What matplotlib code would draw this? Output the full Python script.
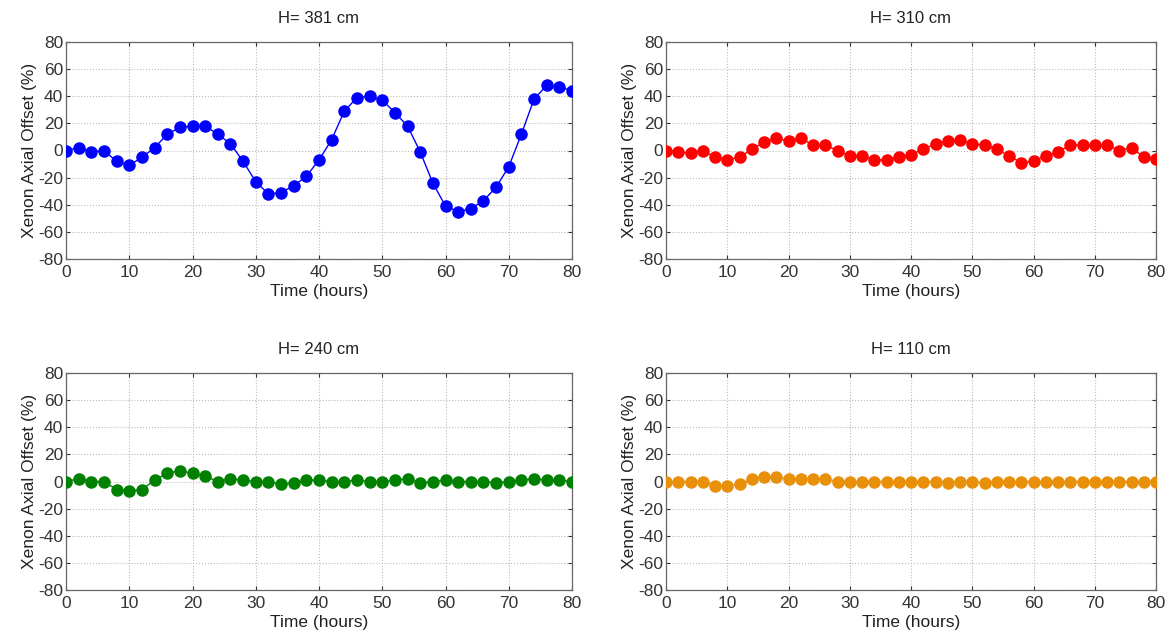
import matplotlib
matplotlib.use("Agg")
import matplotlib.pyplot as plt
import numpy as np

plt.rcParams['font.family'] = ['Liberation Sans', 'DejaVu Sans']
plt.rcParams['axes.unicode_minus'] = False

time_h = list(range(0, 81, 2))

ao_381 = [0, 2, -1, 0, -8, -11, -5, 2, 12, 17, 18, 18, 12, 5, -8, -23, -32, -31, -26, -19,
          -7, 8, 29, 39, 40, 37, 28, 18, -1, -24, -41, -45, -43, -37, -27, -12, 12, 38, 48, 47, 44]
ao_310 = [0, -1, -2, 0, -5, -7, -5, 1, 6, 9, 7, 9, 4, 4, 0, -4, -4, -7, -7, -5,
          -3, 1, 5, 7, 8, 5, 4, 1, -4, -9, -8, -4, -1, 4, 4, 4, 4, 0, 2, -5, -6]
ao_240 = [0, 2, 0, 0, -6, -7, -6, 1, 6, 8, 6, 4, 0, 2, 1, 0, 0, -2, -1, 1,
          1, 0, 0, 1, 0, 0, 1, 2, -1, 0, 1, 0, 0, 0, -1, 0, 1, 2, 1, 1, 0]
ao_110 = [0, 0, 0, 0, -3, -3, -2, 2, 3, 3, 2, 2, 2, 2, 0, 0, 0, 0, 0, 0,
          0, 0, 0, -1, 0, 0, -1, 0, 0, 0, 0, 0, 0, 0, 0, 0, 0, 0, 0, 0, 0]

titles = ['H= 381 cm', 'H= 310 cm', 'H= 240 cm', 'H= 110 cm']
series = [ao_381, ao_310, ao_240, ao_110]
colors = ['#0000FF', '#FF0000', '#008000', '#E8900A']

xticks = [0, 10, 20, 30, 40, 50, 60, 70, 80]
yticks = [-80, -60, -40, -20, 0, 20, 40, 60, 80]

W, H = 1167, 638
fig = plt.figure(figsize=(W / 100, H / 100), dpi=100)

# axes boxes in pixels: left, right, top, bottom
boxes = [(66, 572, 42, 259), (666, 1156, 42, 259),
         (66, 572, 373, 590), (666, 1156, 373, 590)]

for (l, r, t, b), title, ys, c in zip(boxes, titles, series, colors):
    ax = fig.add_axes([l / W, 1 - b / H, (r - l) / W, (b - t) / H])
    ax.plot(time_h, ys, '-', color=c, lw=1.0, marker='o', markersize=8,
            markerfacecolor=c, markeredgecolor=c, zorder=3)
    ax.set_xlim(0, 80)
    ax.set_ylim(-80, 80)
    ax.set_xticks(xticks)
    ax.set_yticks(yticks)
    ax.tick_params(labelsize=12.5, colors='#333333', direction='in', length=3,
                   top=True, right=True)
    ax.tick_params(axis='x', pad=4)
    ax.tick_params(axis='y', pad=2)
    ax.grid(True, color='#BBBBBB', linestyle=':', linewidth=0.8)
    for s in ax.spines.values():
        s.set_color('#666666')
        s.set_linewidth(0.9)
    ax.set_title(title, fontsize=12, color='#222222', pad=14)
    ax.set_xlabel('Time (hours)', fontsize=12.5, color='#222222', labelpad=3)
    ax.set_ylabel('Xenon Axial Offset (%)', fontsize=12.5, color='#222222', labelpad=1)

fig.savefig('out.png', dpi=100, facecolor='white')
